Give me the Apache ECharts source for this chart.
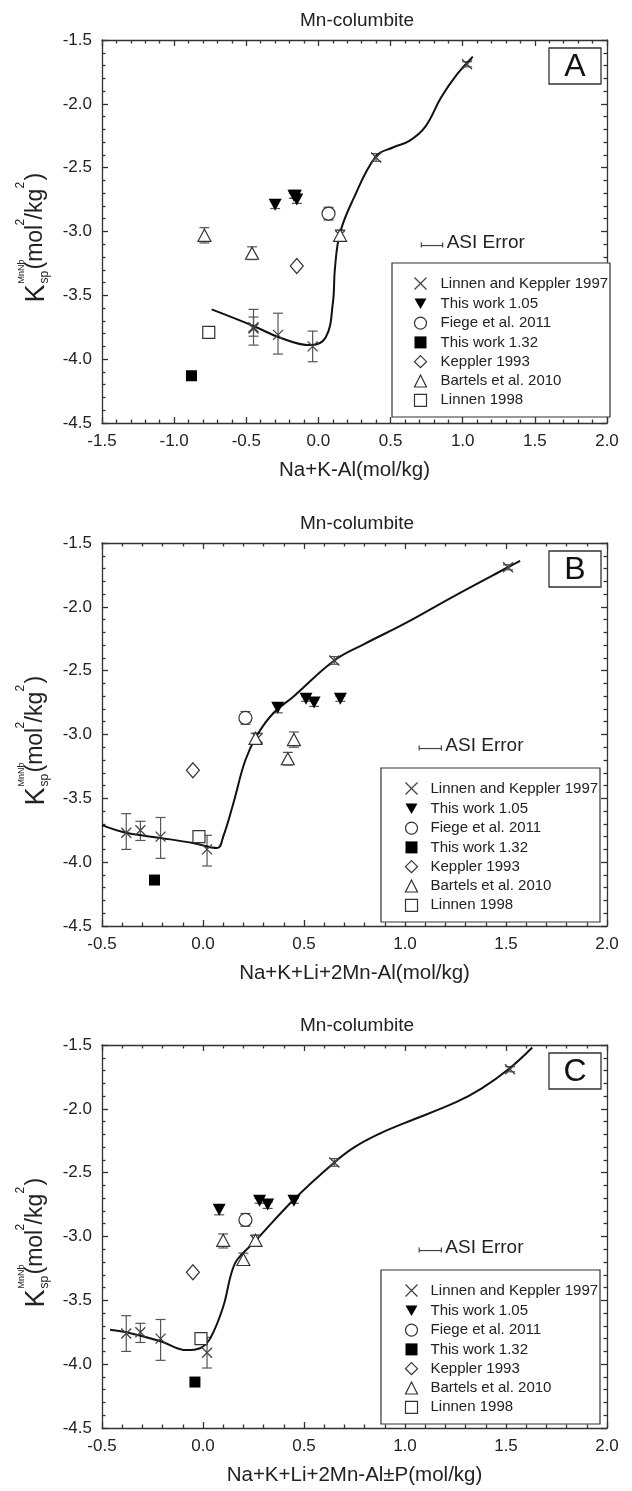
<!DOCTYPE html>
<html>
<head>
<meta charset="utf-8">
<title>Mn-columbite</title>
<script src="https://cdn.jsdelivr.net/npm/echarts@6/dist/echarts.min.js"></script>
<style>
html, body { margin: 0; padding: 0; background: #fff; }
#chart { width: 632px; height: 1491px; }
</style>
</head>
<body>
<div id="chart"></div>
<script>
// points are [x, logKsp, errTop, errBottom]; the error columns are optional

// ---- panel A : Na+K-Al ----
const aLinnenKeppler97 = [[1.03, -1.69, -1.67, -1.71], [0.40, -2.42, -2.39, -2.45], [0.15, -3.03, -2.99, -3.07],
  [-0.04, -3.90, -3.78, -4.02], [-0.28, -3.81, -3.64, -3.96], [-0.45, -3.76, -3.61, -3.89], [-0.45, -3.75, -3.67, -3.82]];
const aThisWork105 = [[-0.30, -2.79, -2.76, -2.82], [-0.17, -2.72, -2.70, -2.74], [-0.15, -2.75, -2.72, -2.78], [-0.16, -2.72, -2.70, -2.74]];
const aFiege2011 = [[0.07, -2.86, -2.81, -2.91]];
const aThisWork132 = [[-0.88, -4.13]];
const aKeppler1993 = [[-0.15, -3.27]];
const aBartels2010 = [[-0.79, -3.03, -2.97, -3.09], [-0.46, -3.17, -3.12, -3.22], [0.15, -3.03, -2.99, -3.07]];
const aLinnen1998 = [[-0.76, -3.79]];
const aFitCurve = [[-0.74, -3.61], [-0.45, -3.74], [-0.27, -3.83], [-0.06, -3.89], [0.05, -3.83], [0.10, -3.56],
  [0.115, -3.28], [0.15, -3.01], [0.24, -2.75], [0.40, -2.41], [0.52, -2.34], [0.63, -2.29], [0.74, -2.18],
  [0.85, -1.95], [0.96, -1.77], [1.07, -1.63]];
const aAsiError = [[0.787, -3.11, 0.074]];

// ---- panel B : Na+K+Li+2Mn-Al ----
const bLinnenKeppler97 = [[1.51, -1.69, -1.67, -1.71], [0.65, -2.42, -2.39, -2.45], [0.27, -3.03, -2.99, -3.07],
  [0.02, -3.90, -3.79, -4.03], [-0.21, -3.80, -3.65, -3.97], [-0.31, -3.75, -3.68, -3.83], [-0.38, -3.77, -3.62, -3.90]];
const bThisWork105 = [[0.37, -2.79, -2.76, -2.83], [0.51, -2.72, -2.70, -2.74], [0.55, -2.75, -2.73, -2.78], [0.68, -2.72, -2.70, -2.74]];
const bFiege2011 = [[0.21, -2.87, -2.82, -2.92]];
const bThisWork132 = [[-0.24, -4.14]];
const bKeppler1993 = [[-0.05, -3.28]];
const bBartels2010 = [[0.26, -3.03, -2.99, -3.07], [0.45, -3.04, -2.98, -3.10], [0.42, -3.19, -3.14, -3.24]];
const bLinnen1998 = [[-0.02, -3.80]];
const bFitCurve = [[-0.5, -3.71], [-0.38, -3.77], [-0.21, -3.81], [-0.05, -3.85], [0.07, -3.89], [0.10, -3.80],
  [0.15, -3.54], [0.21, -3.20], [0.27, -3.00], [0.35, -2.83], [0.45, -2.70], [0.65, -2.42], [0.80, -2.29],
  [1.0, -2.13], [1.25, -1.91], [1.51, -1.69], [1.57, -1.64]];
const bAsiError = [[1.125, -3.11, 0.055]];

// ---- panel C : Na+K+Li+2Mn-Al±P ----
const cLinnenKeppler97 = [[1.52, -1.69, -1.67, -1.71], [0.65, -2.42, -2.39, -2.45], [0.26, -3.03, -2.99, -3.07],
  [0.02, -3.91, -3.79, -4.03], [-0.21, -3.80, -3.65, -3.97], [-0.31, -3.75, -3.68, -3.83], [-0.38, -3.76, -3.62, -3.90]];
const cThisWork105 = [[0.08, -2.79, -2.76, -2.83], [0.28, -2.72, -2.70, -2.74], [0.32, -2.75, -2.73, -2.78], [0.45, -2.72, -2.70, -2.74]];
const cFiege2011 = [[0.21, -2.87, -2.82, -2.92]];
const cThisWork132 = [[-0.04, -4.14]];
const cKeppler1993 = [[-0.05, -3.28]];
const cBartels2010 = [[0.10, -3.03, -2.98, -3.09], [0.20, -3.18, -3.13, -3.22], [0.26, -3.03, -2.99, -3.07]];
const cLinnen1998 = [[-0.01, -3.80]];
const cFitCurve = [[-0.46, -3.73], [-0.38, -3.75], [-0.21, -3.82], [-0.08, -3.89], [-0.015, -3.875], [0.035, -3.80],
  [0.10, -3.55], [0.14, -3.29], [0.17, -3.18], [0.25, -3.05], [0.45, -2.71], [0.65, -2.42], [0.75, -2.30],
  [0.88, -2.19], [1.0, -2.11], [1.25, -1.95], [1.38, -1.84], [1.52, -1.68], [1.63, -1.52]];
const cAsiError = [[1.125, -3.11, 0.055]];

const yTicks = { min: -4.5, max: -1.5, step: 0.5 };
const seriesNames = ['Linnen and Keppler 1997', 'This work 1.05', 'Fiege et al. 2011', 'This work 1.32',
  'Keppler 1993', 'Bartels et al. 2010', 'Linnen 1998'];

const panels = [
  { tag: 'A', top: 40, xMin: -1.5, xName: 'Na+K-Al(mol/kg)', curve: aFitCurve, asi: aAsiError,
    box: { x: 392, w: 218, dy: 223, iconLeft: 412, textPad: 9 },
    sets: [aLinnenKeppler97, aThisWork105, aFiege2011, aThisWork132, aKeppler1993, aBartels2010, aLinnen1998] },
  { tag: 'B', top: 543, xMin: -0.5, xName: 'Na+K+Li+2Mn-Al(mol/kg)', curve: bFitCurve, asi: bAsiError,
    box: { x: 381, w: 219, dy: 225, iconLeft: 403, textPad: 8 },
    sets: [bLinnenKeppler97, bThisWork105, bFiege2011, bThisWork132, bKeppler1993, bBartels2010, bLinnen1998] },
  { tag: 'C', top: 1045, xMin: -0.5, xName: 'Na+K+Li+2Mn-Al±P(mol/kg)', curve: cFitCurve, asi: cAsiError,
    box: { x: 381, w: 219, dy: 225, iconLeft: 403, textPad: 8 },
    sets: [cLinnenKeppler97, cThisWork105, cFiege2011, cThisWork132, cKeppler1993, cBartels2010, cLinnen1998] }
];

const FONT = '"Liberation Sans", Arial, sans-serif';
const INK = '#222';
const GRID_LEFT = 102, GRID_W = 505, GRID_H = 383;

const X_PATH = 'path://M0,0L10,10M10,0L0,10';
const DOWN_TRI = 'path://M0,0L12,0L6,10.4Z';
const open = { color: '#fff', borderColor: '#333', borderWidth: 1.2 };
const marks = [
  { symbol: X_PATH, size: 10, style: { color: 'none', borderColor: '#444', borderWidth: 1.3 } },
  { symbol: DOWN_TRI, size: [13, 12], style: { color: '#000' } },
  { symbol: 'circle', size: 13, style: open },
  { symbol: 'rect', size: 11, style: { color: '#000' } },
  { symbol: 'diamond', size: [13, 15], style: open },
  { symbol: 'triangle', size: [13, 12], style: open },
  { symbol: 'rect', size: 12, style: open }
];

function renderErr(params, api) {
  const x = api.value(0);
  const hi = api.coord([x, api.value(2)]);
  const lo = api.coord([x, api.value(3)]);
  const c = 5;
  const st = { stroke: '#555', lineWidth: 1.2 };
  return {
    type: 'group',
    children: [
      { type: 'line', shape: { x1: hi[0], y1: hi[1], x2: lo[0], y2: lo[1] }, style: st },
      { type: 'line', shape: { x1: hi[0] - c, y1: hi[1], x2: hi[0] + c, y2: hi[1] }, style: st },
      { type: 'line', shape: { x1: lo[0] - c, y1: lo[1], x2: lo[0] + c, y2: lo[1] }, style: st }
    ]
  };
}

function renderAsi(params, api) {
  const y = api.value(1);
  const l = api.coord([api.value(0) - api.value(2), y]);
  const r = api.coord([api.value(0) + api.value(2), y]);
  const st = { stroke: '#444', lineWidth: 1.2 };
  return {
    type: 'group',
    children: [
      { type: 'line', shape: { x1: l[0], y1: l[1], x2: r[0], y2: r[1] }, style: st },
      { type: 'line', shape: { x1: l[0], y1: l[1] - 3, x2: l[0], y2: l[1] + 2 }, style: st },
      { type: 'line', shape: { x1: r[0], y1: r[1] - 3, x2: r[0], y2: r[1] + 2 }, style: st },
      { type: 'text', style: { x: r[0] + 4, y: r[1] - 3, text: 'ASI Error', fontSize: 19, fontFamily: FONT,
        fill: INK, verticalAlign: 'middle' } }
    ]
  };
}

// rotated y-axis title K_sp^MnNb (mol^2/kg^2), built from small pieces
function yTitle(cy) {
  const piece = (x, y, size, text) => ({
    type: 'text', style: { x, y, text, fontSize: size, fontFamily: FONT, fill: INK, verticalAlign: 'middle' }
  });
  return {
    type: 'group', x: 0, y: cy + 71, rotation: Math.PI / 2,
    children: [
      piece(0, 37, 27, 'K'), piece(19, 22, 9, 'MnNb'), piece(19, 45, 12, 'sp'),
      piece(33, 36, 23, '(mol'), piece(77, 21, 12, '2'), piece(83, 36, 23, '/kg'),
      piece(114, 21, 12, '2'), piece(122, 36, 23, ')')
    ]
  };
}

const fmt = (v) => v.toFixed(1);
const lineSt = { color: '#333', width: 1.3 };

const option = {
  animation: false,
  backgroundColor: '#fff',
  textStyle: { fontFamily: FONT },
  title: [], grid: [], xAxis: [], yAxis: [], legend: [], series: [], graphic: []
};

panels.forEach((p, i) => {
  option.grid.push({ left: GRID_LEFT, top: p.top, width: GRID_W, height: GRID_H });
  const tickCommon = {
    axisLine: { onZero: false, lineStyle: lineSt },
    axisTick: { inside: true, length: 6, lineStyle: lineSt },
    minorTick: { show: true, splitNumber: 5, length: 3.5, lineStyle: lineSt },
    splitLine: { show: false }
  };
  option.xAxis.push(Object.assign({
    type: 'value', gridIndex: i, min: p.xMin, max: 2.0, interval: 0.5, position: 'bottom',
    axisLabel: { margin: 10, fontSize: 17, color: INK, formatter: fmt },
    name: p.xName, nameLocation: 'middle', nameGap: 37,
    nameTextStyle: { fontSize: 20.5, color: INK }
  }, tickCommon));
  option.xAxis.push(Object.assign({
    type: 'value', gridIndex: i, min: p.xMin, max: 2.0, interval: 0.5, position: 'top',
    axisLabel: { show: false }
  }, tickCommon));
  option.yAxis.push(Object.assign({
    type: 'value', gridIndex: i, min: yTicks.min, max: yTicks.max, interval: yTicks.step, position: 'left',
    axisLabel: { margin: 10, fontSize: 17, color: INK, formatter: fmt }
  }, tickCommon));
  option.yAxis.push(Object.assign({
    type: 'value', gridIndex: i, min: yTicks.min, max: yTicks.max, interval: yTicks.step, position: 'right',
    axisLabel: { show: false }
  }, tickCommon));

  const xi = 2 * i, yi = 2 * i;
  option.title.push({
    text: 'Mn-columbite', left: 352, top: p.top - 34, textAlign: 'center',
    textStyle: { fontSize: 19, fontWeight: 'normal', color: INK, fontFamily: FONT }
  });

  // error bars drawn first so the markers sit on top
  const errData = [];
  p.sets.forEach((s) => s.forEach((pt) => { if (pt.length === 4) errData.push(pt); }));
  option.series.push({
    type: 'custom', xAxisIndex: xi, yAxisIndex: yi, data: errData, renderItem: renderErr,
    encode: { x: 0, y: 1 }, z: 2, silent: true
  });
  option.series.push({
    type: 'line', xAxisIndex: xi, yAxisIndex: yi, data: p.curve, smooth: 0.4, showSymbol: false,
    lineStyle: { color: '#111', width: 2 }, z: 3, silent: true
  });
  p.sets.forEach((s, k) => {
    const m = marks[k];
    option.series.push({
      type: 'scatter', name: seriesNames[k], xAxisIndex: xi, yAxisIndex: yi,
      data: s.map((pt) => [pt[0], pt[1]]), symbol: m.symbol, symbolSize: m.size,
      itemStyle: Object.assign({ opacity: 1 }, m.style), z: 4
    });
  });
  option.series.push({
    type: 'custom', xAxisIndex: xi, yAxisIndex: yi, data: p.asi, renderItem: renderAsi,
    encode: { x: 0, y: 1 }, z: 4, silent: true
  });

  option.legend.push({
    orient: 'vertical', left: p.box.iconLeft, top: p.top + p.box.dy + 12, itemWidth: 12, itemHeight: 12,
    itemGap: 4.3, padding: 0, symbolKeepAspect: true, selectedMode: false,
    textStyle: { fontSize: 15, color: INK, fontFamily: FONT, lineHeight: 15, padding: [0, 0, 0, p.box.textPad] },
    data: seriesNames.map((n, k) => ({
      name: n,
      icon: k === 1 ? DOWN_TRI : marks[k].symbol,
      itemStyle: marks[k].style
    })),
    z: 6
  });

  option.graphic.push({
    type: 'rect', shape: { x: p.box.x, y: p.top + p.box.dy, width: p.box.w, height: 154 },
    style: { fill: '#fff', stroke: '#333', lineWidth: 1.2 }, z: 5, silent: true
  });
  option.graphic.push({
    type: 'rect', shape: { x: 549, y: p.top + 8, width: 52, height: 36 },
    style: { fill: '#fff', stroke: '#333', lineWidth: 1.3 }, z: 5, silent: true
  });
  option.graphic.push({
    type: 'text', style: { x: 575, y: p.top + 27, text: p.tag, fontSize: 32, fontFamily: FONT, fill: '#111',
      align: 'center', verticalAlign: 'middle' }, z: 6, silent: true
  });
  option.graphic.push(yTitle(p.top + GRID_H / 2));
});

const chart = echarts.init(document.getElementById('chart'));
chart.setOption(option);
</script>
</body>
</html>
